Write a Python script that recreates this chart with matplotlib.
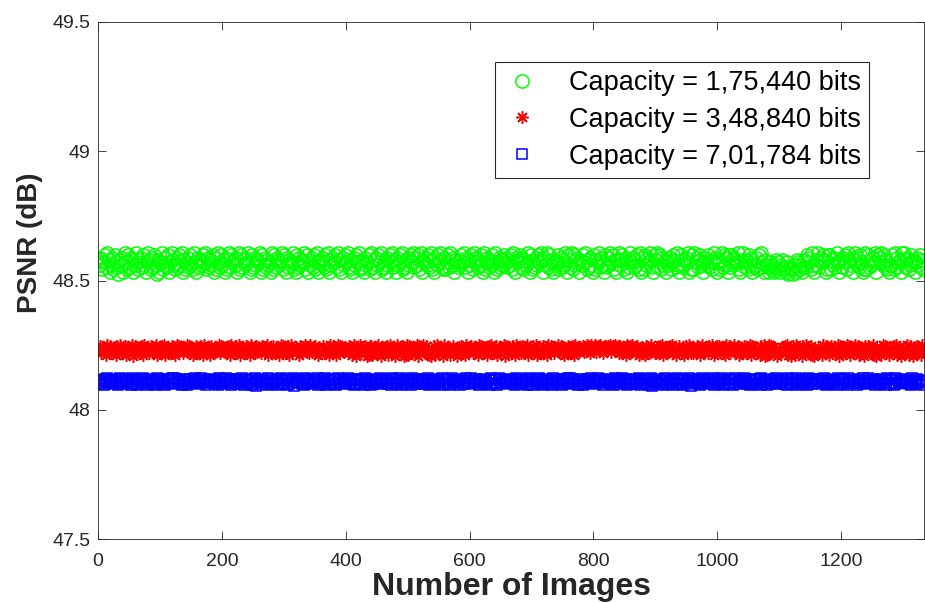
import numpy as np
import matplotlib.pyplot as plt

plt.rcParams['font.family'] = ['Liberation Sans', 'DejaVu Sans']

# PSNR values as digit codes (value = base + step * digit), one code every 2nd image
image_step = 2

green_base, green_step = 48.525, 0.009
green_codes = (
    "4762583961 4728530647 1952837614 9526738415 9627384061 5924738159 6427384916 2573842951 "
    "7364859273 6481729538 4617293856 4719283647 5912837465 9182736451 9283764592 8173645921 "
    "8374659281 6473829156 4738291647 5839261748 5932617485 9236174582 9361748592 3617485936 "
    "1748592361 7485937482 9165748392 6174859327 2583947165 3648593716 4829573648 1925736481 "
    "9527364857 3648291756 8372645918 2637485961 7493826154 5827364918 6392847516 4859263741 "
    "8265937418 3749582616 9468275139 5736482917 2847596318 6938274615 4725863941 8364759128 "
    "2957386415 7483625971 5629384718 3874659216 9536284713 4728395164 3152413625 1462315023 "
    "2041652413 6385729416 4937586128 8264739516 3758296471 6947385129 2836475918 7594836214 "
    "4829375619 9367248561 5748362"
)
red_base, red_step = 48.202, 0.0056
red_codes = (
    "5837462948 3657284936 4827365918 5746382947 6384759263 4859273648 3729485736 5948372638 "
    "4738295647 2836475938 5647382946 3859274638 4729563847 6385749263 3847562938 5738294657 "
    "4628375946 3947586273 5836472948 4729385647 6385729416 4937586128 8264739516 3758296471 "
    "6947385129 2836475918 7594836214 4829375619 5367248561 4748362957 5837462948 3657284936 "
    "4827365918 5746382947 6384759263 4859273648 3729485736 5948372638 4738295647 5847968396 "
    "7948597368 5879486978 3846572938 4957382647 6283749563 3748592637 4859372648 5372846937 "
    "3648572946 4738596248 5846372958 3759468273 4863759284 5736284917 2938475613 6475839261 "
    "3829475618 5947382615 4736295847 2845736918 6473958264 3958274618 5847392615 4729583627 "
    "6384927516 3759284617 4836295"
)
blue_base, blue_step = 48.090, 0.0038
blue_codes = (
    "4637285946 5738462957 3846572938 6274859362 4857362948 5736284759 3948576238 6253847596 "
    "4739586247 5846372958 3759468273 4863759284 6473829156 5837462948 3657284936 4827365918 "
    "5746382947 6384759263 4859273648 3729485736 5948372638 4738295647 2836475938 5647382946 "
    "3859274638 4729563847 6385749263 3847562938 5738294657 4628375946 3947586273 5836472948 "
    "4729385647 5748362957 3846572938 6274859362 4857362948 5736284759 3948576238 6253847596 "
    "4739586247 5846372958 3759468273 4863759284 6473829156 5837462948 3657284936 4827365918 "
    "5746382947 6384759263 4859273648 3729485736 5948372638 4738295647 2836475938 5647382946 "
    "3859274638 4729563847 6385749263 3847562938 5738294657 4628375946 3947586273 5836472948 "
    "4729385647 5748362957 3846572"
)

labels = ['Capacity = 1,75,440 bits', 'Capacity = 3,48,840 bits', 'Capacity = 7,01,784 bits']


def decode(codes, base, step):
    d = np.array([int(c) for c in codes.replace(' ', '')])
    return 1 + image_step * np.arange(len(d)), base + step * d


xg, green = decode(green_codes, green_base, green_step)
xr, red = decode(red_codes, red_base, red_step)
xb, blue = decode(blue_codes, blue_base, blue_step)

fig = plt.figure(figsize=(9.25, 6.03), dpi=100)
ax = fig.add_axes([98/925, 1 - 539/603, 826/925, 517/603])

ax.plot(xg, green, 'o', color=(0, 1, 0), mfc='none', ms=9.5, mew=1.1, label=labels[0])
ax.plot(xr, red, ls='none', marker=(8, 2, 0), color=(1, 0, 0), ms=9, mew=1.1, label=labels[1])
ax.plot(xb, blue, 's', color=(0, 0, 1), mfc='none', ms=7, mew=1.1, label=labels[2])

ax.set_xlim(0, 1334)
ax.set_ylim(47.5, 49.5)
ax.set_xticks(range(0, 1201, 200))
ax.set_yticks([47.5, 48, 48.5, 49, 49.5])
ax.set_yticklabels(['47.5', '48', '48.5', '49', '49.5'])
ax.tick_params(direction='in', top=True, right=True, labelsize=14, colors='0.15', length=6, width=0.6)
ax.tick_params(axis='x', pad=10)
ax.tick_params(axis='y', pad=5.5)
for s in ax.spines.values():
    s.set_color('0.15')
    s.set_linewidth(0.6)

# x label sits right at the bottom edge, as in the original figure
ax.set_xlabel('Number of Images', fontsize=23, fontweight='bold', color='0.15', va='bottom')
ax.xaxis.set_label_coords(0.5, (539 - 602) / 517)
ax.set_ylabel('PSNR (dB)', fontsize=20, fontweight='bold', color='0.15')
ax.yaxis.set_label_coords(-0.066, 0.573)

leg = ax.legend(loc='upper right', bbox_to_anchor=(869/925, 1 - 62/603), bbox_transform=fig.transFigure,
                borderaxespad=0, fontsize=19.5, handlelength=1.37, handletextpad=1.04, labelspacing=0.4,
                fancybox=False, framealpha=1, borderpad=0.3)
leg.get_frame().set_edgecolor('0.15')
leg.get_frame().set_linewidth(0.8)

fig.savefig('out.png', dpi=100)
